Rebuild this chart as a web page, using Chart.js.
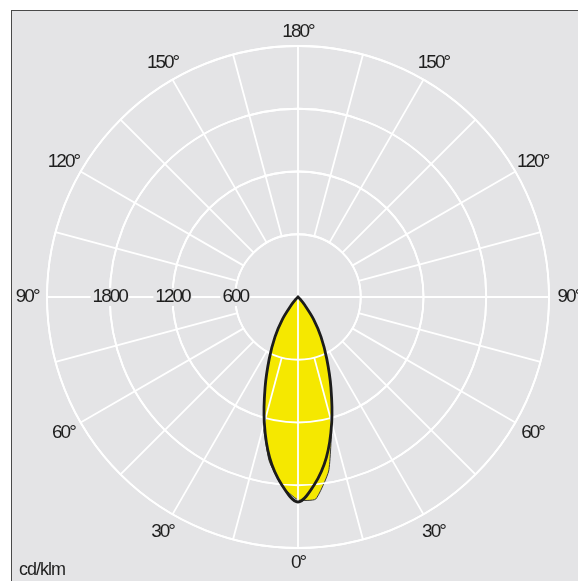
<!DOCTYPE html>
<html>
<head>
<meta charset="utf-8">
<script src="https://cdn.jsdelivr.net/npm/chart.js@4.4.1/dist/chart.umd.min.js"></script>
<style>
  html, body { margin: 0; padding: 0; background: #ffffff; }
  #wrap { position: relative; width: 578px; height: 581px; overflow: hidden; }
  #panel {
    position: absolute; left: 11px; top: 10px; right: 0; bottom: 0;
    background: #e4e4e6;
    border-top: 1.5px solid #4a4a4a;
    border-left: 1.5px solid #4a4a4a;
  }
  canvas { position: absolute; left: 0; top: 0; }
</style>
</head>
<body>
<div id="wrap">
  <div id="panel"></div>
  <canvas id="ldc" width="578" height="581"></canvas>
</div>
<script>
/* -------------------------------------------------------
   DATA: luminous intensity (cd/klm) by gamma angle
   lobe only; every other angle is 0
------------------------------------------------------- */
const lobeAngles   = [0, 5, 10, 15, 20, 25, 30, 35, 40, 45];
const c0c180Left   = [1960, 1800, 1560, 1245, 920, 650, 440, 260, 100, 30];
const c0c180Right  = [1960, 1800, 1560, 1245, 920, 650, 440, 260, 100, 30];
const c90c270Left  = [1940, 1810, 1590, 1275, 930, 650, 440, 260, 100, 30];
const c90c270Right = [1940, 1940, 1690, 1250, 920, 650, 440, 260, 100, 30];

const ringTicks  = [600, 1200, 1800];
const angleTicks = [0, 30, 60, 90, 120, 150, 180];
const unitLabel  = "cd/klm";

const STEP = 5;          // degrees between radar points
const R_MAX = 2400;
const PANEL_BG = "#e4e4e6";

/* -------------------------------------------------------
   Build full-circle arrays (0° at bottom, going clockwise:
   left half is 0..180, right half 180..0)
------------------------------------------------------- */
const nPoints = 360 / STEP;
const gammaAt = [];
for (let i = 0; i < nPoints; i++) {
  const a = i * STEP;
  gammaAt.push(a <= 180 ? a : 360 - a);
}

function fullCurve(left, right) {
  return gammaAt.map((g, i) => {
    const side = i * STEP <= 180 ? left : right;
    const k = lobeAngles.indexOf(g);
    return k >= 0 ? side[k] : 0;
  });
}

/* pick a condensed face if one is installed */
function pickFont(size) {
  const c = document.createElement("canvas").getContext("2d");
  c.font = size + "px serif";
  const w1 = c.measureText("1800 150°").width;
  c.font = size + "px 'Liberation Sans Narrow', serif";
  const w2 = c.measureText("1800 150°").width;
  if (Math.abs(w1 - w2) > 0.5) return { family: "'Liberation Sans Narrow'", spacing: 0.6 };
  return { family: "'Liberation Sans', Arial", spacing: -2 };
}
const labelFont = pickFont(19);

function drawText(ctx, text, x, y, size, align, backdrop, spacing) {
  ctx.save();
  ctx.font = size + "px " + labelFont.family;
  ctx.letterSpacing = (spacing != null ? spacing : labelFont.spacing) + "px";
  ctx.textAlign = align || "center";
  ctx.textBaseline = "middle";
  if (backdrop) {
    const w = ctx.measureText(text).width + 4;
    ctx.fillStyle = PANEL_BG;
    ctx.fillRect(x - w / 2, y - 9, w, 18);
  }
  ctx.fillStyle = "#1e1e1e";
  ctx.fillText(text, x, y);
  ctx.restore();
}

/* -------------------------------------------------------
   PLUGIN: grid over the yellow fill, spokes, labels
------------------------------------------------------- */
const polarDecor = {
  id: "polarDecor",
  beforeDatasetDraw(chart, args) {
    if (args.index !== 0) return;
    const scale = chart.scales.r;
    const ctx = chart.ctx;
    scale.drawGrid(); // rings again, on top of the fill

    ctx.save();
    ctx.strokeStyle = "#ffffff";
    ctx.lineWidth = 1.8;
    for (let i = 0; i < nPoints; i++) {
      const a = i * STEP;
      if (a % 15 !== 0) continue;
      const from = a % 90 === 0 ? 0 : ringTicks[0];
      const p0 = scale.getPointPositionForValue(i, from);
      const p1 = scale.getPointPositionForValue(i, R_MAX);
      ctx.beginPath();
      ctx.moveTo(p0.x, p0.y);
      ctx.lineTo(p1.x, p1.y);
      ctx.stroke();
    }
    ctx.restore();
  },
  afterDatasetsDraw(chart) {
    const scale = chart.scales.r;
    const ctx = chart.ctx;

    // ring values along the left 90° axis
    const leftIdx = 90 / STEP;
    ringTicks.forEach((v) => {
      const p = scale.getPointPositionForValue(leftIdx, v);
      drawText(ctx, String(v), p.x, p.y, 19, "center", true);
    });

    // gamma labels around the outside
    for (let i = 0; i < nPoints; i++) {
      const g = gammaAt[i];
      if (i * STEP % 30 !== 0 || angleTicks.indexOf(g) < 0) continue;
      const v = (g === 0 || g === 180) ? 2540 : 2590;
      const p = scale.getPointPositionForValue(i, v);
      drawText(ctx, g + "°", p.x, p.y, 19, "center", false);
    }

    drawText(ctx, unitLabel, 19, 570, 18, "left", false, -1);
  },
};

/* -------------------------------------------------------
   RADAR CHART
------------------------------------------------------- */
new Chart(document.getElementById("ldc").getContext("2d"), {
  type: "radar",
  data: {
    labels: gammaAt.map((g) => g + "°"),
    datasets: [
      {
        label: "C0-C180",
        data: fullCurve(c0c180Left, c0c180Right),
        borderColor: "#1c1c1c",
        borderWidth: 2.8,
        backgroundColor: "rgba(0,0,0,0)",
        fill: false,
        pointRadius: 0,
        tension: 0.35,
      },
      {
        label: "C90-C270",
        data: fullCurve(c90c270Left, c90c270Right),
        borderColor: "#3a3a3a",
        borderWidth: 1,
        backgroundColor: "#f5e800",
        fill: true,
        pointRadius: 0,
        tension: 0.15,
      },
    ],
  },
  options: {
    responsive: false,
    animation: false,
    layout: { padding: { left: 47, top: 46, right: 29, bottom: 33 } },
    plugins: {
      legend: { display: false },
      tooltip: { enabled: false },
    },
    scales: {
      r: {
        min: 0,
        max: R_MAX,
        startAngle: 180,
        ticks: { display: false, stepSize: 600 },
        pointLabels: { display: false },
        angleLines: { display: false },
        grid: { circular: true, color: "#ffffff", lineWidth: 1.8 },
      },
    },
  },
  plugins: [polarDecor],
});
</script>
</body>
</html>
